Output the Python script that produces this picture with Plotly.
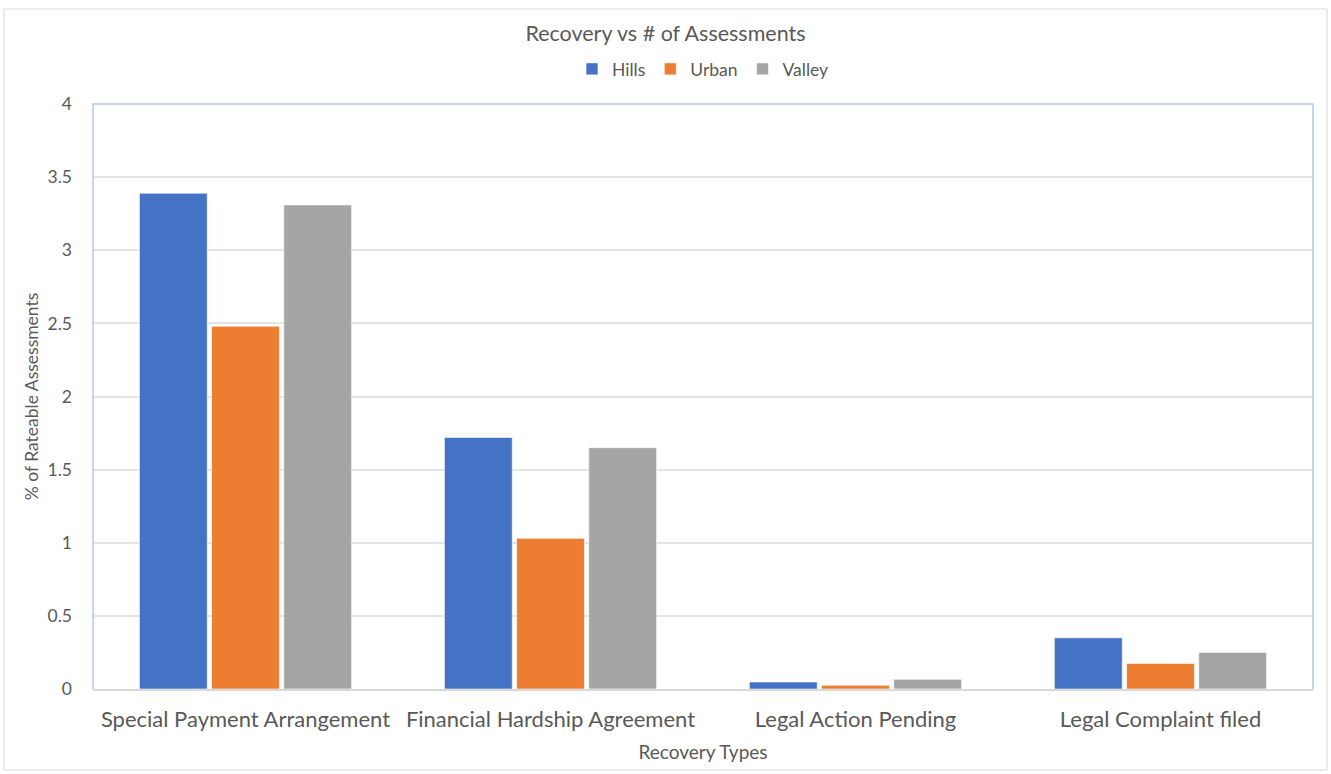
import plotly.graph_objects as go

categories = ["Special Payment Arrangement", "Financial Hardship Agreement",
              "Legal Action Pending", "Legal Complaint filed"]
hills = [3.39, 1.72, 0.048, 0.35]
urban = [2.48, 1.03, 0.025, 0.175]
valley = [3.31, 1.65, 0.066, 0.25]
y_ticks = [0, 0.5, 1, 1.5, 2, 2.5, 3, 3.5, 4]
y_tick_labels = ["0", "0.5", "1", "1.5", "2", "2.5", "3", "3.5", "4"]

FONT = "Lato, 'Open Sans', sans-serif"
TXT = "#595959"

fig = go.Figure()
for name, vals, col in [("Hills", hills, "#4472C4"), ("Urban", urban, "#ED7D31"),
                        ("Valley", valley, "#A5A5A5")]:
    fig.add_trace(go.Bar(x=categories, y=vals, name=name,
                         marker=dict(color=col, line=dict(color="rgba(255,255,255,0.6)", width=1))))

fig.update_layout(
    width=1331, height=774,
    margin=dict(l=93, r=18, t=104, b=85, autoexpand=False),
    paper_bgcolor="white", plot_bgcolor="white",
    barmode="group", bargap=0.29, bargroupgap=0.06,
    font=dict(family=FONT, color=TXT),
    title=dict(text="Recovery vs # of Assessments", x=0.5, xanchor="center",
               y=1 - 33 / 774, yanchor="middle", font=dict(size=21.5, color=TXT, family=FONT)),
    legend=dict(orientation="h", x=0.5, xanchor="center", y=1 - 69 / 774, yref="container",
                yanchor="middle", font=dict(size=17.5, color=TXT, family=FONT),
                itemwidth=30, traceorder="normal"),
    showlegend=True,
)
fig.update_xaxes(
    showline=True, linecolor="#D9D9D9", linewidth=1.5, mirror=False,
    tickfont=dict(size=22, color=TXT, family=FONT), ticks="", ticklabelstandoff=10,
    title=dict(text="Recovery Types", font=dict(size=19, color=TXT, family=FONT), standoff=15),
)
fig.update_yaxes(
    range=[0, 4], tickvals=y_ticks, ticktext=y_tick_labels,
    showgrid=True, gridcolor="#E4E4E4", gridwidth=1.5, zeroline=False,
    showline=False, ticks="", ticklabelstandoff=20,
    tickfont=dict(size=17.5, color=TXT, family=FONT),
    title=dict(text="% of Rateable Assessments", font=dict(size=17.5, color=TXT, family=FONT), standoff=4),
)
# plot area border (light blue on left, top, right)
fig.add_shape(type="path", xref="paper", yref="paper",
              path="M 0,0 L 0,1 L 1,1 L 1,0", line=dict(color="#B4C7E7", width=1.5), layer="above")
# chart outer border
fig.add_shape(type="rect", xref="paper", yref="paper",
              x0=(4 - 93) / 1220, x1=(1327 - 93) / 1220,
              y0=(689 - 770) / 585, y1=(689 - 9) / 585,
              line=dict(color="#D9D9D9", width=1))

fig.write_html("out.html")
